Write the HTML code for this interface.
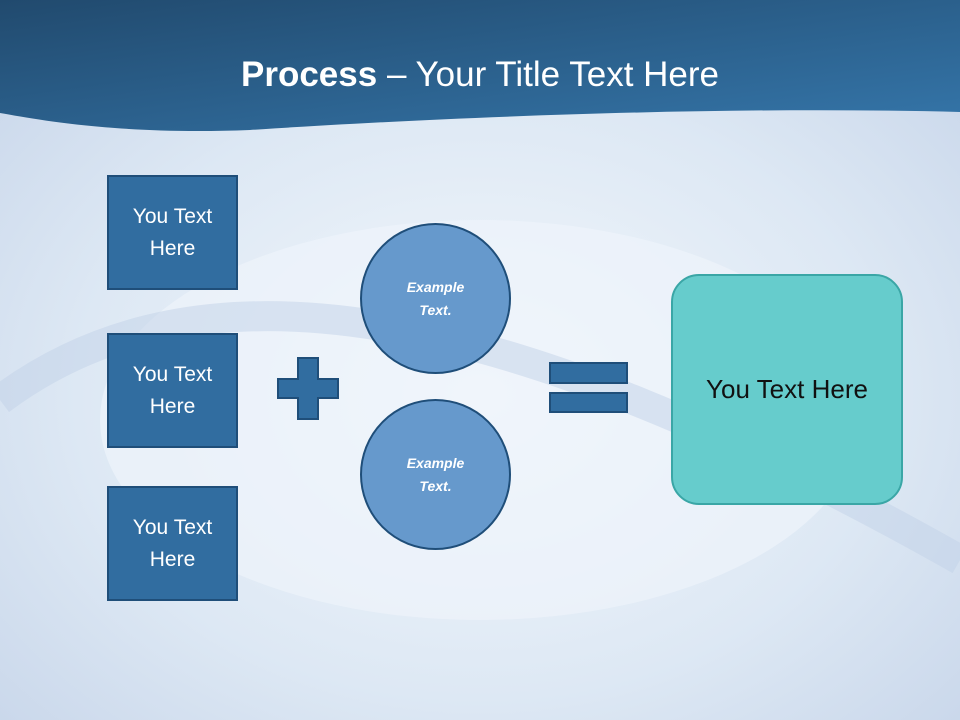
<!DOCTYPE html>
<html><head><meta charset="utf-8"><style>
body{margin:0;width:960px;height:720px;overflow:hidden;font-family:"Liberation Sans",sans-serif}
.box{position:absolute;background:#316da0;border:2px solid #1f4e79;color:#fff;font-size:21px;text-align:center;display:flex;align-items:center;justify-content:center;line-height:32px;box-sizing:border-box}
.c{position:absolute;border-radius:50%;background:#6699cc;border:2px solid #1f4e79;color:#fff;font-size:14px;font-weight:bold;font-style:italic;display:flex;align-items:center;justify-content:center;text-align:center;line-height:23px;box-sizing:border-box}
.r{position:absolute;background:#316da0;border:2px solid #1f4e79;box-sizing:border-box}
</style></head><body>
<svg width="960" height="720" style="position:absolute;left:0;top:0">
<defs>
<radialGradient id="bg" cx="0.5" cy="0.55" r="0.7"><stop offset="0" stop-color="#f4f8fc"/><stop offset="0.6" stop-color="#dde8f4"/><stop offset="1" stop-color="#c8d6ea"/></radialGradient>
<linearGradient id="hd" x1="0" y1="0" x2="1" y2="1"><stop offset="0" stop-color="#214a6e"/><stop offset="1" stop-color="#3576aa"/></linearGradient>
</defs>
<rect width="960" height="720" fill="url(#bg)"/>
<ellipse cx="480" cy="420" rx="380" ry="200" fill="#eef4fb" opacity="0.7"/>
<path d="M0 400 C200 250 500 300 960 560" stroke="#c2d2e8" stroke-width="30" fill="none" opacity="0.5"/>
<path d="M0 0 H960 V112 C700 105 400 120 250 130 C120 135 40 120 0 113 Z" fill="url(#hd)"/>
<path d="M298 358 H318 V379 H338 V398 H318 V419 H298 V398 H278 V379 H298 Z" fill="#316da0" stroke="#1f4e79" stroke-width="2"/>
</svg>
<div style="position:absolute;left:0;top:55px;width:960px;text-align:center;color:#fff;font-size:35px"><b>Process</b> – Your Title Text Here</div>
<div class="box" style="left:107px;top:175px;width:131px;height:115px">You Text<br>Here</div>
<div class="box" style="left:107px;top:333px;width:131px;height:115px">You Text<br>Here</div>
<div class="box" style="left:107px;top:486px;width:131px;height:115px">You Text<br>Here</div>
<div class="c" style="left:360px;top:223px;width:151px;height:151px">Example<br>Text.</div>
<div class="c" style="left:360px;top:399px;width:151px;height:151px">Example<br>Text.</div>
<div class="r" style="left:549px;top:362px;width:79px;height:22px"></div>
<div class="r" style="left:549px;top:392px;width:79px;height:21px"></div>
<div style="position:absolute;left:671px;top:274px;width:232px;height:231px;box-sizing:border-box;background:#66cccc;border:2px solid #3aa6a6;border-radius:28px;display:flex;align-items:center;justify-content:center;font-size:26px;color:#111">You Text Here</div>
</body></html>
